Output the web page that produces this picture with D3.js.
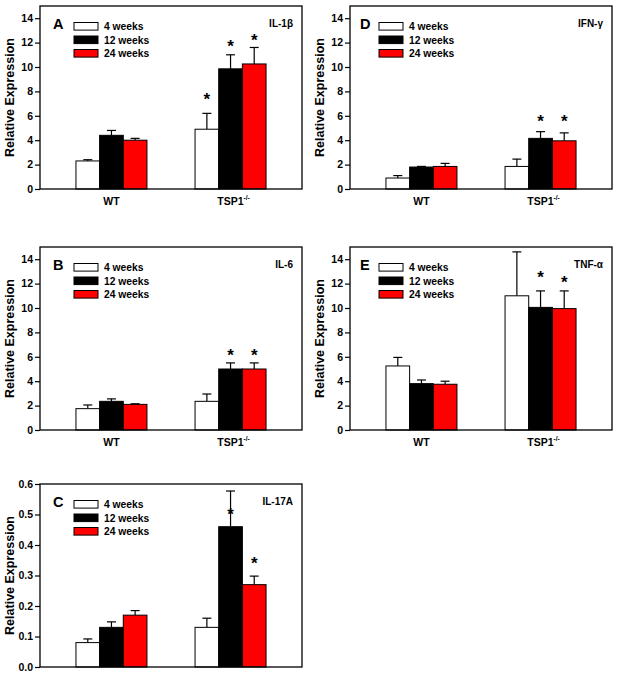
<!DOCTYPE html>
<html>
<head>
<meta charset="utf-8">
<script src="https://cdn.jsdelivr.net/npm/d3@7"></script>
<style>
  body { margin: 0; background: #fff; }
  svg { display: block; font-family: "Liberation Sans", Arial, sans-serif; }
</style>
</head>
<body>
<div id="app"></div>
<script>
// groups and time points
const groups = ["WT", "TSP1"];
const series = ["4 weeks", "12 weeks", "24 weeks"];
const seriesColors = ["#ffffff", "#000000", "#ff0000"];

// values per bar: WT 4/12/24 wk, TSP1 4/12/24 wk
const il1bMean = [2.3, 4.4, 4.0, 4.9, 9.85, 10.25];
const il1bErr = [2.4, 4.8, 4.15, 6.2, 11.0, 11.6];
const il1bStar = [null, null, null, 7.6, 12.0, 12.5];

const ifngMean = [0.9, 1.8, 1.85, 1.85, 4.15, 3.95];
const ifngErr = [1.1, 1.85, 2.1, 2.45, 4.7, 4.6];
const ifngStar = [null, null, null, null, 5.8, 5.8];

const il6Mean = [1.75, 2.35, 2.1, 2.35, 5.0, 5.0];
const il6Err = [2.05, 2.55, 2.15, 2.95, 5.5, 5.5];
const il6Star = [null, null, null, null, 6.4, 6.4];

const tnfaMean = [5.25, 3.8, 3.75, 11.0, 10.05, 9.95];
const tnfaErr = [5.95, 4.1, 4.0, 14.6, 11.4, 11.4];
const tnfaStar = [null, null, null, null, 12.75, 12.4];

const il17Mean = [0.08, 0.13, 0.17, 0.13, 0.46, 0.27];
const il17Err = [0.092, 0.148, 0.185, 0.16, 0.577, 0.298];
const il17Star = [null, null, null, null, 0.51, 0.35];

const bigTicks = [0, 2, 4, 6, 8, 10, 12, 14];
const smallTicks = [0, 0.1, 0.2, 0.3, 0.4, 0.5, 0.6];

const panels = [
  { letter: "A", gene: "IL-1β", mean: il1bMean, err: il1bErr, star: il1bStar, max: 15, ticks: bigTicks, fmt: d3.format("d"), left: 40, top: 6, legendDx: 34, letterDx: 13, xLabels: true },
  { letter: "D", gene: "IFN-γ", mean: ifngMean, err: ifngErr, star: ifngStar, max: 15, ticks: bigTicks, fmt: d3.format("d"), left: 350, top: 6, legendDx: 29, letterDx: 10, xLabels: true },
  { letter: "B", gene: "IL-6", mean: il6Mean, err: il6Err, star: il6Star, max: 15, ticks: bigTicks, fmt: d3.format("d"), left: 40, top: 247, legendDx: 34, letterDx: 13, xLabels: true },
  { letter: "E", gene: "TNF-α", mean: tnfaMean, err: tnfaErr, star: tnfaStar, max: 15, ticks: bigTicks, fmt: d3.format("d"), left: 350, top: 247, legendDx: 29, letterDx: 10, xLabels: true },
  // bottom panel: its group labels fall below the picture edge
  { letter: "C", gene: "IL-17A", mean: il17Mean, err: il17Err, star: il17Star, max: 0.6, ticks: smallTicks, fmt: d3.format(".1f"), left: 40, top: 484, legendDx: 34, letterDx: 13, xLabels: false }
];

const W = 619, H = 676;
const plotW = 262, plotH = 183;

const svg = d3.select("#app").append("svg")
  .attr("width", W)
  .attr("height", H);

panels.forEach(p => drawPanel(p));

function drawPanel(p) {
  const g = svg.append("g").attr("transform", `translate(${p.left},${p.top})`);

  const y = d3.scaleLinear().domain([0, p.max]).range([plotH, 0]);
  const x0 = d3.scalePoint().domain(groups).range([0, plotW]).padding(0.6);
  const x1 = d3.scaleBand().domain(series).range([-35.5, 35.5]);

  const bars = [];
  groups.forEach((grp, gi) => {
    series.forEach((s, si) => {
      const k = gi * 3 + si;
      bars.push({ grp, s, si, v: p.mean[k], e: p.err[k], star: p.star[k] });
    });
  });

  // error bars (up only)
  const eb = g.append("g");
  bars.forEach(b => {
    const cx = x0(b.grp) + x1(b.s) + x1.bandwidth() / 2;
    eb.append("line")
      .attr("x1", cx).attr("x2", cx)
      .attr("y1", y(b.v)).attr("y2", y(b.e))
      .attr("stroke", "#000").attr("stroke-width", 1.2);
    eb.append("line")
      .attr("x1", cx - 4.5).attr("x2", cx + 4.5)
      .attr("y1", y(b.e)).attr("y2", y(b.e))
      .attr("stroke", "#000").attr("stroke-width", 1.2);
    if (b.star != null) {
      g.append("text")
        .attr("x", cx)
        .attr("y", y(b.star) + 9)
        .attr("text-anchor", "middle")
        .attr("font-size", 17)
        .attr("font-weight", "bold")
        .text("*");
    }
  });

  g.append("g").selectAll("rect")
    .data(bars)
    .enter()
    .append("rect")
    .attr("x", d => x0(d.grp) + x1(d.s))
    .attr("y", d => y(d.v))
    .attr("width", x1.bandwidth())
    .attr("height", d => plotH - y(d.v))
    .attr("fill", d => seriesColors[d.si])
    .attr("stroke", "#000")
    .attr("stroke-width", 1);

  // frame
  g.append("rect")
    .attr("width", plotW).attr("height", plotH)
    .attr("fill", "none").attr("stroke", "#000").attr("stroke-width", 1.3);

  // y axis
  const ax = g.append("g")
    .call(d3.axisLeft(y).tickValues(p.ticks).tickFormat(p.fmt).tickSize(5).tickPadding(2));
  ax.select(".domain").remove();
  ax.selectAll("line").attr("stroke", "#000").attr("stroke-width", 1.2);
  ax.selectAll("text")
    .attr("font-family", "'Liberation Sans', Arial, sans-serif")
    .attr("font-size", 10.5)
    .attr("font-weight", "bold")
    .attr("fill", "#000");

  g.append("text")
    .attr("transform", `translate(-26,${plotH / 2}) rotate(-90)`)
    .attr("text-anchor", "middle")
    .attr("font-size", 12.5)
    .attr("font-weight", "bold")
    .text("Relative Expression");

  // x labels
  if (p.xLabels) {
    g.append("text")
      .attr("x", x0("WT")).attr("y", plotH + 16)
      .attr("text-anchor", "middle")
      .attr("font-size", 10.5).attr("font-weight", "bold")
      .text("WT");
    const tsp = g.append("text")
      .attr("x", x0("TSP1") + 3).attr("y", plotH + 16)
      .attr("text-anchor", "middle")
      .attr("font-size", 10.5).attr("font-weight", "bold");
    tsp.append("tspan").text("TSP1");
    tsp.append("tspan").attr("dy", -5).attr("font-size", 6.5).text("-/-");
  }

  // panel letter + gene
  g.append("text")
    .attr("x", p.letterDx).attr("y", 23)
    .attr("font-size", 14.5).attr("font-weight", "bold")
    .text(p.letter);
  g.append("text")
    .attr("x", plotW - 9).attr("y", 21)
    .attr("text-anchor", "end")
    .attr("font-size", 10).attr("font-weight", "bold")
    .text(p.gene);

  // legend
  const lg = g.append("g").attr("transform", `translate(${p.legendDx},0)`);
  series.forEach((s, i) => {
    const cy = 20.3 + i * 13.5;
    lg.append("rect")
      .attr("x", 0).attr("y", cy - 3.8)
      .attr("width", 24).attr("height", 7.6)
      .attr("fill", seriesColors[i]).attr("stroke", "#000").attr("stroke-width", 1);
    lg.append("text")
      .attr("x", 30).attr("y", cy + 3.7)
      .attr("font-size", 10.3).attr("font-weight", "bold")
      .text(s);
  });
}
</script>
</body>
</html>
